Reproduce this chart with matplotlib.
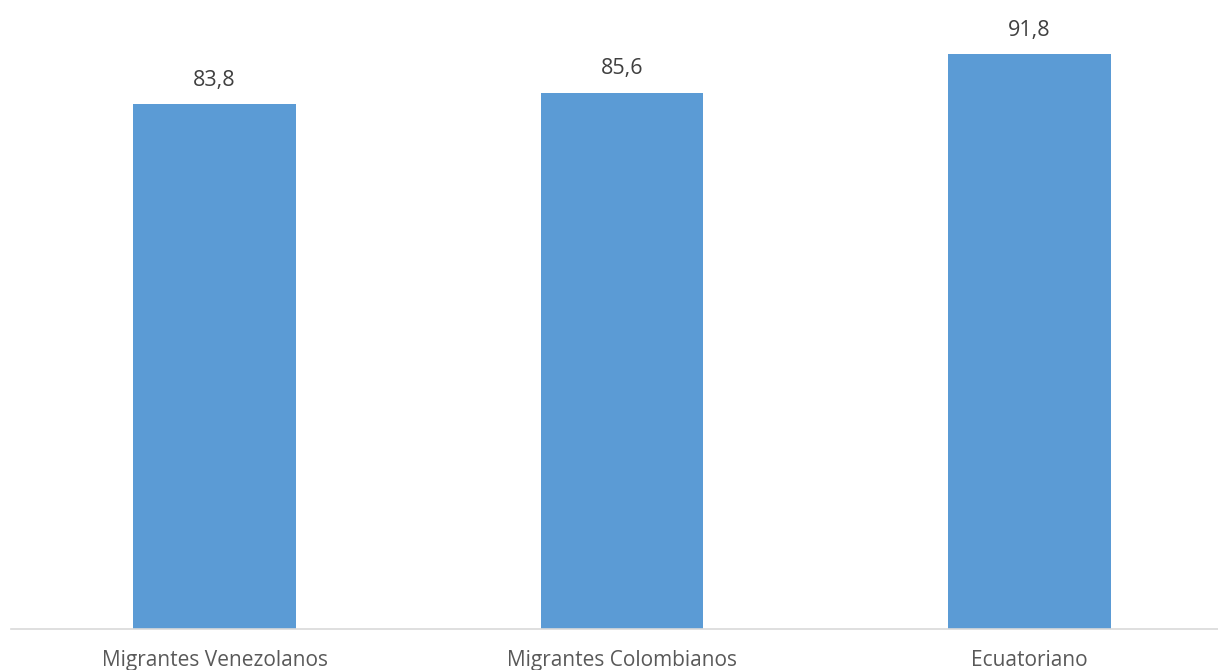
import numpy as np
import matplotlib.pyplot as plt

plt.rcParams['font.family'] = ['Open Sans', 'DejaVu Sans']

categorias = ['Migrantes Venezolanos', 'Migrantes Colombianos', 'Ecuatoriano']
valores = [83.8, 85.6, 91.8]
etiquetas = ['83,8', '85,6', '91,8']

fig = plt.figure(figsize=(12.18, 6.70), dpi=100)
ax = fig.add_axes([11/1218, 41/670, 1207/1218, 626/670])

x = np.arange(len(categorias))
ax.bar(x, valores, width=0.4, color='#5B9BD5')
for xi, v, t in zip(x, valores, etiquetas):
    ax.annotate(t, (xi, v), xytext=(0, 17.5), textcoords='offset points',
                ha='center', va='center', fontsize=15.5, color='#404040')

ax.set_xlim(-0.5, 2.5 - 15/407.5)
ax.set_ylim(0, 100)
ax.set_xticks(x)
ax.set_xticklabels(categorias, fontsize=15, color='#595959')
ax.tick_params(axis='x', length=0, pad=15)
ax.set_yticks([])
for s in ['top', 'right', 'left']:
    ax.spines[s].set_visible(False)
ax.spines['bottom'].set_color('#D9D9D9')
ax.spines['bottom'].set_linewidth(1.2)

fig.savefig('out.png', dpi=100)
